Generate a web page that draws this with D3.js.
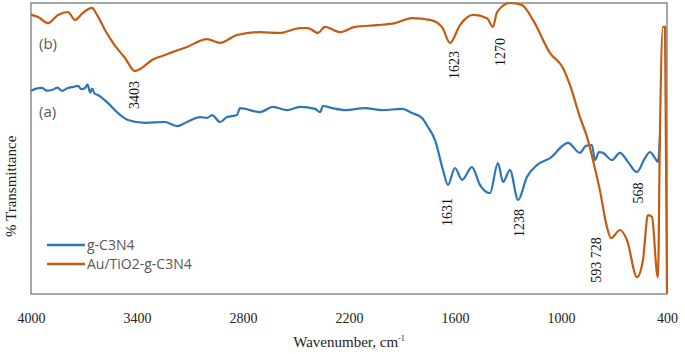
<!DOCTYPE html>
<html>
<head>
<meta charset="utf-8">
<script src="https://cdn.jsdelivr.net/npm/d3@7"></script>
<style>
  body { margin: 0; background: #fff; }
  svg { display: block; }
</style>
</head>
<body>
<div id="chart"></div>
<script>
// FTIR spectra, wavenumber (cm-1) vs % transmittance
const wavenumberTicks = [4000, 3400, 2800, 2200, 1600, 1000, 400];

const seriesNames = ["g-C3N4", "Au/TiO2-g-C3N4"];
const seriesLabels = ["(a)", "(b)"];

// (a) g-C3N4
const gc3n4Wn = [4000, 3970, 3938, 3910, 3881, 3850, 3825, 3791, 3760, 3734, 3715, 3694, 3680, 3665, 3655, 3640, 3621, 3564, 3508, 3451,
  3355, 3242, 3174, 3117, 3043, 3004, 2975, 2930, 2891, 2834, 2817, 2704, 2630, 2551, 2477, 2392, 2364, 2347, 2296,
  2223, 2109, 2013, 1900, 1843, 1787, 1753, 1713, 1668, 1640, 1600, 1560, 1504, 1459, 1402, 1357, 1328, 1289,
  1243, 1193, 1136, 1062, 960, 893, 859, 825, 808, 785, 762, 712, 666, 621, 570, 525, 496, 468, 451, 440];
const gc3n4T = [69.8, 70.6, 70.8, 69.9, 70.1, 70.9, 69.8, 70.8, 71.2, 71.5, 70.4, 70.8, 72.0, 69.2, 70.6, 68.9, 68.4, 65.6, 62.2, 59.8,
  58.8, 59.1, 57.7, 59.1, 60.8, 60.5, 61.5, 59.1, 60.8, 61.5, 63.9, 62.5, 64.3, 63.2, 64.3, 63.6, 62.5, 64.6, 63.9,
  63.2, 63.9, 63.2, 63.6, 62.2, 60.5, 57.4, 52.9, 42.6, 37.5, 43.3, 39.2, 43.6, 37.5, 34.7, 45.0, 38.5, 42.6,
  32.3, 40.2, 44.3, 46.7, 51.9, 48.5, 50.9, 51.2, 46.0, 48.8, 48.5, 46.0, 48.5, 45.4, 41.9, 46.7, 48.8, 46.7, 45.4, 54.0];

// (b) Au/TiO2-g-C3N4
const auTiWn = [4000, 3960, 3904, 3847, 3791, 3751, 3706, 3655, 3626, 3581, 3536, 3468, 3411, 3372, 3315, 3242, 3196, 3117,
  3004, 2930, 2834, 2704, 2591, 2477, 2432, 2376, 2336, 2251, 2166, 2036, 1940, 1843, 1742, 1674, 1628, 1572,
  1498, 1419, 1385, 1362, 1289, 1221, 1159, 1062, 989, 949, 893, 853, 819, 780, 740, 717, 666, 627, 570, 536,
  508, 485, 457, 451, 440, 423, 411, 400];
const auTiT = [95.9, 95.2, 93.1, 95.9, 96.9, 94.2, 96.6, 98.3, 95.9, 90.7, 86.3, 81.1, 76.6, 77.7, 80.4, 82.1, 83.2, 84.9,
  87.6, 86.3, 89.0, 90.0, 89.7, 91.4, 91.4, 89.7, 91.8, 90.0, 91.8, 92.4, 93.1, 94.8, 94.2, 91.8, 86.3, 92.4,
  95.9, 94.8, 91.8, 96.9, 100, 99.3, 94.2, 82.8, 77.7, 71.8, 60.8, 54.0, 46.0, 35.7, 23.0, 19.2, 22.0, 18.6, 5.8, 11.7,
  27.1, 26.5, 7.2, 5.8, 55.3, 91.8, 91.8, 0.3];

// peak annotations: text, wavenumber and transmittance where the text sits
const peakText = ["3403", "1623", "1270", "1631", "1238", "593  728", "568"];
const peakWn = [3417, 1606, 1346, 1645, 1238, 802, 564];
const peakT = [68.4, 78.7, 83.2, 28.2, 24.4, 11.7, 34.7];

const width = 685, height = 354;
const margin = { top: 3, right: 18, bottom: 60, left: 31 };
const colors = ["#2e75b6", "#c55a11"];
const serif = "Liberation Serif, Times New Roman, serif";
const sans = "Open Sans, Liberation Sans, sans-serif";

const svg = d3.select("#chart").append("svg")
  .attr("width", width)
  .attr("height", height);

const x = d3.scaleLinear().domain([4000, 400]).range([margin.left, width - margin.right]);
const y = d3.scaleLinear().domain([0, 100]).range([height - margin.bottom, margin.top]);

const line = d3.line()
  .x(d => x(d[0]))
  .y(d => y(d[1]))
  .curve(d3.curveMonotoneX);

const series = [
  d3.zip(gc3n4Wn, gc3n4T),
  d3.zip(auTiWn, auTiT)
];

// frame
svg.append("rect")
  .attr("x", x(4000))
  .attr("y", y(100))
  .attr("width", x(400) - x(4000))
  .attr("height", y(0) - y(100))
  .attr("fill", "none")
  .attr("stroke", "#8a8a8a")
  .attr("stroke-width", 1.5);

// spectra
svg.selectAll("path.spec")
  .data(series)
  .join("path")
  .attr("class", "spec")
  .attr("d", line)
  .attr("fill", "none")
  .attr("stroke", (d, i) => colors[i])
  .attr("stroke-width", 2.2)
  .attr("stroke-linejoin", "round");

// x axis labels
const xAxis = d3.axisBottom(x).tickValues(wavenumberTicks).tickFormat(d3.format("d")).tickSize(0).tickPadding(0);
const gx = svg.append("g")
  .attr("transform", `translate(0, ${y(0)})`)
  .call(xAxis);
gx.select(".domain").remove();
gx.selectAll("text")
  .attr("y", 29)
  .attr("dy", null)
  .style("font-family", serif)
  .style("font-size", "14px")
  .attr("fill", "#222");

// axis titles
const title = svg.append("text")
  .attr("x", (x(4000) + x(400)) / 2)
  .attr("y", 347)
  .attr("text-anchor", "middle")
  .style("font-family", serif)
  .style("font-size", "15px")
  .attr("fill", "#222")
  .text("Wavenumber, cm");
title.append("tspan")
  .attr("dy", -6)
  .style("font-size", "8px")
  .text("-1");

svg.append("text")
  .attr("transform", `translate(16, ${y(37)}) rotate(-90)`)
  .attr("text-anchor", "middle")
  .style("font-family", serif)
  .style("font-size", "15px")
  .attr("fill", "#222")
  .text("% Transmittance");

// peak labels
svg.selectAll("text.peak")
  .data(peakText)
  .join("text")
  .attr("class", "peak")
  .attr("transform", (d, i) => `translate(${x(peakWn[i]) + 5}, ${y(peakT[i])}) rotate(-90)`)
  .attr("text-anchor", "middle")
  .style("font-family", serif)
  .style("font-size", "14px")
  .attr("fill", "#111")
  .text(d => d);

// (a) / (b) labels
svg.selectAll("text.tag")
  .data(seriesLabels)
  .join("text")
  .attr("class", "tag")
  .attr("x", 39)
  .attr("y", (d, i) => i === 0 ? 117 : 49)
  .style("font-family", sans)
  .style("font-size", "15px")
  .attr("fill", "#595959")
  .text(d => d);

// legend
const legend = svg.append("g").attr("transform", "translate(47, 245)");
legend.selectAll("line")
  .data(seriesNames)
  .join("line")
  .attr("x1", 0)
  .attr("x2", 38)
  .attr("y1", (d, i) => i * 19)
  .attr("y2", (d, i) => i * 19)
  .attr("stroke", (d, i) => colors[i])
  .attr("stroke-width", 2.5);
legend.selectAll("text")
  .data(seriesNames)
  .join("text")
  .attr("x", 40)
  .attr("y", (d, i) => i * 19 + 5)
  .style("font-family", sans)
  .style("font-size", "14px")
  .attr("fill", "#595959")
  .text(d => d);
</script>
</body>
</html>
